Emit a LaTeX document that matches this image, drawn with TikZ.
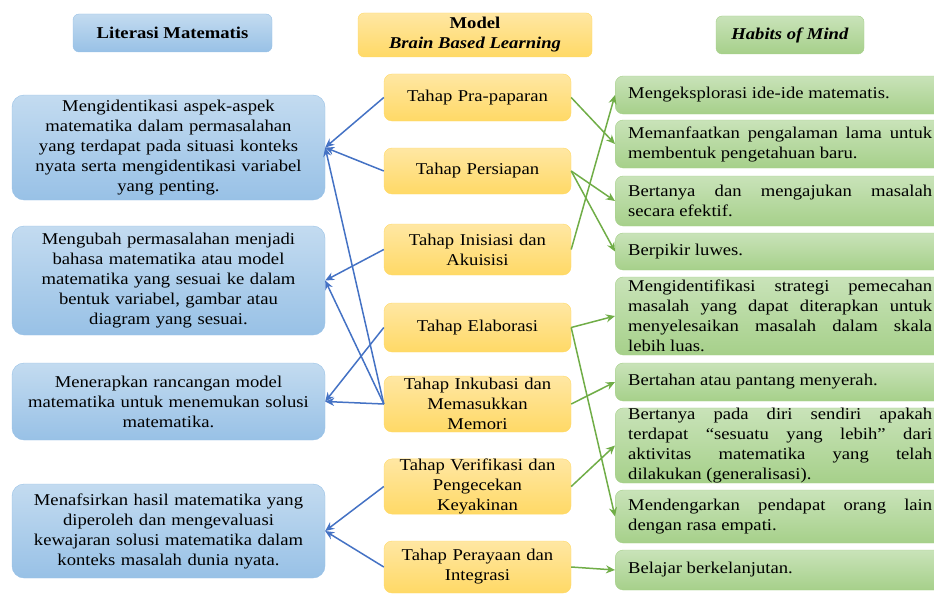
\documentclass[tikz,border=0pt]{standalone}
\usepackage{fontspec}
\setmainfont{Liberation Serif}[FakeStretch=1.13]
\usetikzlibrary{arrows.meta}

\definecolor{bluetop}{HTML}{C3DBF0}
\definecolor{bluebot}{HTML}{98C1E6}
\definecolor{yeltop}{HTML}{FFE7A3}
\definecolor{yelbot}{HTML}{FFD966}
\definecolor{grntop}{HTML}{C9E3B9}
\definecolor{grnbot}{HTML}{A6D08A}
\definecolor{blueline}{HTML}{4472C4}
\definecolor{grnline}{HTML}{70AD47}

\def\boxfont{\fontsize{16.5}{20}\selectfont}

\begin{document}
\begin{tikzpicture}[x=1pt,y=-1pt]
	\tikzstyle{lfill}=[draw=bluebot,top color=bluetop,bottom color=bluebot]
	\tikzstyle{mfill}=[draw=yelbot,top color=yeltop,bottom color=yelbot]
	\tikzstyle{rfill}=[draw=grnbot,top color=grntop,bottom color=grnbot]
	\tikzstyle{hbox}=[rounded corners=6pt,inner sep=0pt,align=center,font=\boxfont\bfseries]
	\tikzstyle{lbox}=[lfill,rounded corners=12pt,minimum width=313pt,text width=300pt,inner sep=0pt,align=center,font=\boxfont]
	\tikzstyle{mbox}=[mfill,rounded corners=8pt,minimum width=187pt,text width=187pt,inner sep=0pt,align=center,font=\boxfont]
	\tikzstyle{rbox}=[rfill,rounded corners=8pt,text width=304pt,inner xsep=13pt,inner ysep=0pt,align=justify,anchor=west,font=\boxfont]
	\tikzstyle{barrow}=[draw=blueline,line width=1.5pt,-{Stealth[length=9pt,width=8pt]}]
	\tikzstyle{garrow}=[draw=grnline,line width=1.5pt,-{Stealth[length=9pt,width=8pt]}]
	\useasboundingbox (0,0) rectangle (934,594);
	\clip (0,0) rectangle (934,594);
	\node[hbox,lfill,minimum width=199pt,minimum height=38pt] (HL) at (172.5,33) {Literasi Matematis};
	\node[hbox,mfill,minimum width=234pt,minimum height=44pt] (HM) at (475,35) {Model\\\textit{Brain Based Learning}};
	\node[hbox,rfill,minimum width=148pt,minimum height=38pt] (HR) at (790,35) {\textit{Habits of Mind}};
	\node[lbox,minimum height=105pt] (L1) at (168.5,147.5) {Mengidentikasi aspek-aspek\\matematika dalam permasalahan\\yang terdapat pada situasi konteks\\nyata serta mengidentikasi variabel\\yang penting.};
	\node[lbox,minimum height=109pt] (L2) at (168.5,280.5) {Mengubah permasalahan menjadi\\bahasa matematika atau model\\matematika yang sesuai ke dalam\\bentuk variabel, gambar atau\\diagram yang sesuai.};
	\node[lbox,minimum height=77pt] (L3) at (168.5,401.5) {Menerapkan rancangan model\\matematika untuk menemukan solusi\\matematika.};
	\node[lbox,minimum height=94pt] (L4) at (168.5,531) {Menafsirkan hasil matematika yang\\diperoleh dan mengevaluasi\\kewajaran solusi matematika dalam\\konteks masalah dunia nyata.};
	\node[mbox,minimum height=47pt] (M1) at (477.5,97.5) {Tahap Pra-paparan};
	\node[mbox,minimum height=46pt] (M2) at (477.5,171) {Tahap Persiapan};
	\node[mbox,minimum height=51pt] (M3) at (477.5,249.5) {Tahap Inisiasi dan\\Akuisisi};
	\node[mbox,minimum height=49pt] (M4) at (477.5,327.5) {Tahap Elaborasi};
	\node[mbox,minimum height=56pt] (M5) at (477.5,404) {Tahap Inkubasi dan\\Memasukkan\\Memori};
	\node[mbox,minimum height=53pt] (M6) at (477.5,486.5) {Tahap Verifikasi dan\\Pengecekan\\Keyakinan};
	\node[mbox,minimum height=52pt] (M7) at (477.5,567) {Tahap Perayaan dan\\Integrasi};
	\node[rbox,minimum height=38pt] (R1) at (615,95) {Mengeksplorasi ide-ide matematis.};
	\node[rbox,minimum height=48pt] (R2) at (615,144) {Memanfaatkan pengalaman lama untuk\linebreak membentuk pengetahuan baru.};
	\node[rbox,minimum height=50pt] (R3) at (615,201) {Bertanya dan mengajukan masalah\linebreak secara efektif.};
	\node[rbox,minimum height=37pt] (R4) at (615,251.5) {Berpikir luwes.};
	\node[rbox,minimum height=78pt] (R5) at (615,316) {Mengidentifikasi strategi pemecahan\linebreak masalah yang dapat diterapkan untuk\linebreak menyelesaikan masalah dalam skala\linebreak lebih luas.};
	\node[rbox,minimum height=38pt] (R6) at (615,382) {Bertahan atau pantang menyerah.};
	\node[rbox,minimum height=75pt] (R7) at (615,445.5) {Bertanya pada diri sendiri apakah\linebreak terdapat “sesuatu yang lebih” dari\linebreak aktivitas matematika yang telah\linebreak dilakukan (generalisasi).};
	\node[rbox,minimum height=53pt] (R8) at (615,516.5) {Mendengarkan pendapat orang lain\linebreak dengan rasa empati.};
	\node[rbox,minimum height=40pt] (R9) at (615,570) {Belajar berkelanjutan.};
	\foreach \a/\b in {M1/L1,M2/L1,M5/L1,M3/L2,M5/L2,M4/L3,M5/L3,M6/L4,M7/L4}
		\draw[barrow] (\a.west) -- (\b.east);
	\foreach \a/\b in {M1/R2,M2/R3,M2/R4,M3/R1,M4/R5,M4/R8,M5/R6,M6/R7,M7/R9}
		\draw[garrow] (\a.east) -- (\b.west);
\end{tikzpicture}
\end{document}
